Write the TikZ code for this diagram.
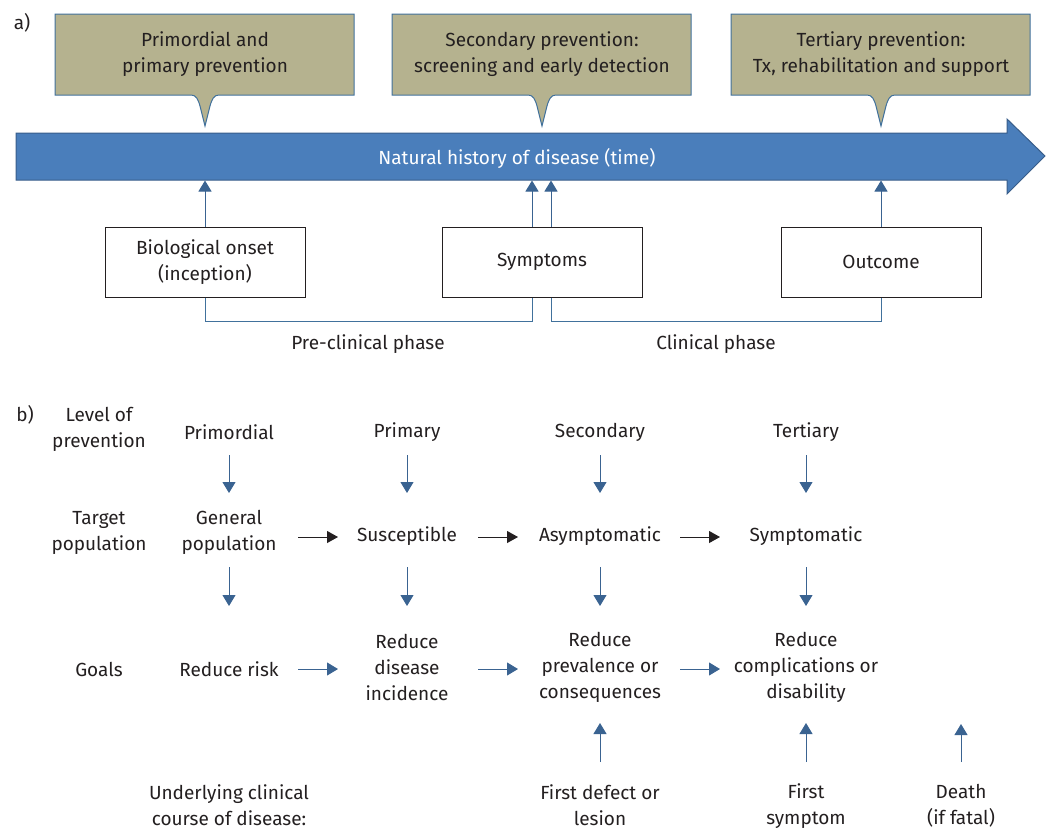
\documentclass[tikz,border=0pt]{standalone}
\usepackage{fontspec}
\setmainfont{Fira Sans}
\usetikzlibrary{arrows.meta}

\definecolor{khaki}{RGB}{181,178,143}
\definecolor{calloutline}{RGB}{65,113,156}
\definecolor{barblue}{RGB}{74,126,187}
\definecolor{barline}{RGB}{56,93,138}
\definecolor{arrowblue}{RGB}{58,99,145}
\definecolor{inkgray}{RGB}{35,31,32}

\tikzset{
  txt/.style={align=center, text=inkgray, inner sep=1pt, font=\fontsize{19}{26}\selectfont},
  phasebox/.style={txt, draw=inkgray, line width=1pt, minimum width=200pt, minimum height=70pt},
  uparrow/.style={arrowblue, line width=1pt, -{Triangle[width=13pt,length=11pt]}},
  blackarrow/.style={inkgray, line width=1pt, -{Triangle[width=12pt,length=11pt]}},
  bracket/.style={calloutline, line width=1pt},
}

\begin{document}
\begin{tikzpicture}[x=1pt, y=-1pt]
    \useasboundingbox (0,0) rectangle (1049,831);

    % a) callouts
    \node[txt] (alabel) at (22,23) {a)};
    \foreach \cx/\nm/\lbl in {205/primcall/{Primordial and\\primary prevention},
                              542/seccall/{Secondary prevention:\\screening and early detection},
                              881/tertcall/{Tertiary prevention:\\Tx, rehabilitation and support}} {
        \filldraw[fill=khaki, draw=calloutline, line width=1pt] (\cx-150,14) -- (\cx+149,14) -- (\cx+149,95) -- (\cx+14,95)
            .. controls (\cx+9,95) and (\cx+7,99) .. (\cx+5,106) -- (\cx,126) -- (\cx-5,106)
            .. controls (\cx-7,99) and (\cx-9,95) .. (\cx-14,95) -- (\cx-150,95) -- cycle;
        \node[txt] (\nm) at (\cx,54) {\lbl};
    }

    % time bar
    \filldraw[fill=barblue, draw=barline, line width=1pt] (16,133) -- (1007,133) -- (1007,119) -- (1045,156)
        -- (1007,194) -- (1007,180) -- (16,180) -- cycle;
    \node[txt, text=white] (bar) at (517,158) {Natural history of disease (time)};

    \node[phasebox] (onset) at (205,262) {Biological onset\\(inception)};
    \node[phasebox] (symp) at (542,262) {Symptoms};
    \node[phasebox] (outc) at (881,262) {Outcome};

    \draw[uparrow] (onset.north) -- ++(0,-46);
    \draw[uparrow] (symp.north) ++(-10,0) -- ++(0,-46);
    \draw[uparrow] (symp.north) ++(9,0) -- ++(0,-46);
    \draw[uparrow] (outc.north) -- ++(0,-46);

    \draw[bracket] (onset.south) -- ++(0,24) -| ([xshift=-10pt]symp.south);
    \draw[bracket] ([xshift=9pt]symp.south) -- ++(0,24) -| (outc.south);
    \node[txt] (preclin) at (368,344) {Pre-clinical phase};
    \node[txt] (clin) at (716,344) {Clinical phase};

    % b) levels
    \node[txt] (blabel) at (25,415) {b)};
    \node[txt] (levlbl) at (99,429) {Level of\\prevention};
    \node[txt] (tgtlbl) at (99,533) {Target\\population};
    \node[txt] (goallbl) at (99,669) {Goals};
    \node[txt] (courselbl) at (229,805) {Underlying clinical\\course of disease:};

    \node[txt] (lprim) at (229,432) {Primordial};
    \node[txt] (lpri) at (407,432) {Primary};
    \node[txt] (lsec) at (600,432) {Secondary};
    \node[txt] (lter) at (806,432) {Tertiary};

    \node[txt] (tgen) at (229,532) {General\\population};
    \node[txt] (tsus) at (407,536) {Susceptible};
    \node[txt] (tasy) at (600,536) {Asymptomatic};
    \node[txt] (tsym) at (806,536) {Symptomatic};

    \node[txt] (grisk) at (229,669) {Reduce risk};
    \node[txt] (ginc) at (407,667) {Reduce\\disease\\incidence};
    \node[txt] (gprev) at (600,667) {Reduce\\prevalence or\\consequences};
    \node[txt] (gcomp) at (806,667) {Reduce\\complications or\\disability};

    \node[txt] (cdef) at (600,805) {First defect or\\lesion};
    \node[txt] (csym) at (806,806) {First\\symptom};
    \node[txt] (cdeath) at (961,806) {Death\\(if fatal)};
    \coordinate (deathgoal) at (961,667);

    % down arrows
    \foreach \a/\b in {lprim/tgen, lpri/tsus, lsec/tasy, lter/tsym}
        \draw[uparrow, shorten <=24pt, shorten >=38pt] (\a.center |- 0,431) -- (\b.center |- 0,531);
    \foreach \a/\b in {tgen/grisk, tsus/ginc, tasy/gprev, tsym/gcomp}
        \draw[uparrow, shorten <=34pt, shorten >=60pt] (\a.center |- 0,533) -- (\b.center |- 0,666);

    % across
    \draw[blackarrow, shorten <=69pt, shorten >=69pt] (tgen.center |- 0,537) -- (tsus.center |- 0,537);
    \draw[blackarrow, shorten <=71pt, shorten >=82pt] (tsus.center |- 0,537) -- (tasy.center |- 0,537);
    \draw[blackarrow, shorten <=80pt, shorten >=86pt] (tasy.center |- 0,537) -- (tsym.center |- 0,537);
    \draw[uparrow, shorten <=69pt, shorten >=69pt] (grisk.center |- 0,669) -- (ginc.center |- 0,669);
    \draw[uparrow, shorten <=71pt, shorten >=82pt] (ginc.center |- 0,669) -- (gprev.center |- 0,669);
    \draw[uparrow, shorten <=80pt, shorten >=86pt] (gprev.center |- 0,669) -- (gcomp.center |- 0,669);

    % up from course
    \draw[uparrow, shorten <=45pt, shorten >=57pt] (cdef.center |- 0,807) -- (gprev.center |- 0,666);
    \draw[uparrow, shorten <=45pt, shorten >=57pt] (csym.center |- 0,807) -- (gcomp.center |- 0,666);
    \draw[uparrow, shorten <=45pt, shorten >=57pt] (cdeath.center |- 0,807) -- (deathgoal);
\end{tikzpicture}
\end{document}
